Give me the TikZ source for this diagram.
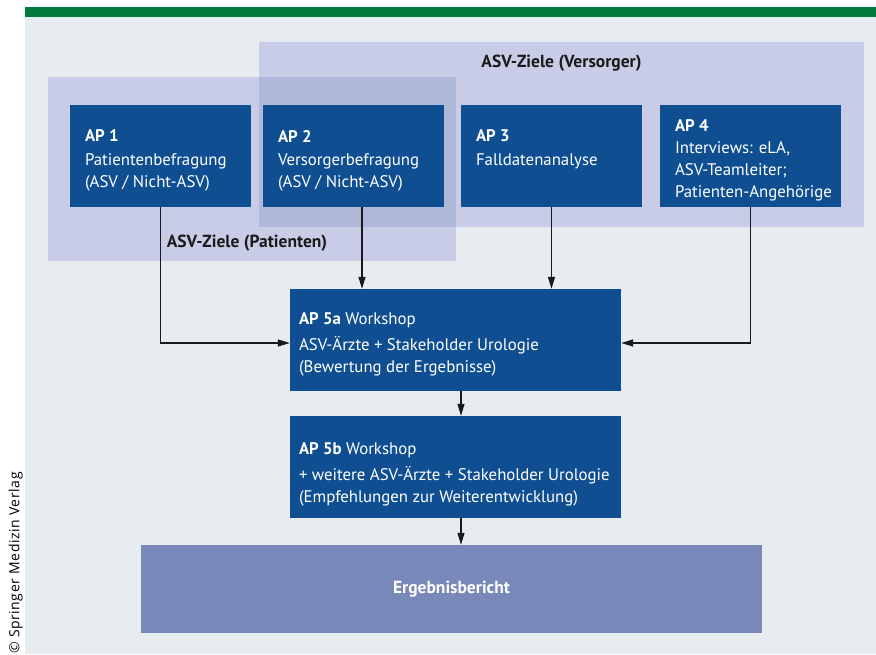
\documentclass[tikz,border=0pt]{standalone}
\usepackage{fontspec}
\setmainfont{PT Sans}
\newfontfamily\copyfont[LetterSpace=4]{Open Sans}
\usetikzlibrary{positioning,arrows.meta}

\definecolor{bgcol}{HTML}{E7ECF1}
\definecolor{barcol}{HTML}{007A3E}
\definecolor{groupcol}{HTML}{C8CCE6}
\definecolor{overlapcol}{HTML}{AFB8D9}
\definecolor{apblue}{HTML}{0F4F91}
\definecolor{resultcol}{HTML}{7889B9}
\definecolor{headcol}{HTML}{1A1A1A}
\definecolor{linecol}{HTML}{1A1A1A}

\begin{document}
\begin{tikzpicture}[x=1pt, y=-1pt,
    group/.style={fill=groupcol, inner sep=0pt},
    apbox/.style={fill=apblue, inner sep=0pt, minimum height=102pt},
    aptext/.style={text=white, align=left, inner sep=0pt, font=\fontsize{16.8}{22}\selectfont},
    heading/.style={text=headcol, inner sep=0pt, font=\fontsize{17.5}{20}\selectfont\bfseries},
    conn/.style={draw=linecol, line width=1.2pt, -{Triangle[length=12pt,width=7pt]}}]

  \useasboundingbox (0,0) rectangle (876,654);
  \clip (0,0) rectangle (876,654);

  % frame
  \fill[bgcol] (25,16.7) rectangle (876,654);
  \fill[barcol] (25,7) rectangle (876,16.7);
  \node[rotate=90, anchor=base east, inner sep=0pt, text=black,
        font=\copyfont\fontsize{14}{16}\selectfont] (copy) at (19.5,472) {© Springer Medizin Verlag};

  % groups
  \node[group, minimum width=408pt, minimum height=184pt] (pgroup) at (252,169) {};
  \node[group, minimum width=605pt, minimum height=185pt] (vgroup) at (561.5,134.5) {};
  \fill[overlapcol] (vgroup.west |- pgroup.north) rectangle (pgroup.east |- vgroup.south);

  \node[heading, below=21pt of vgroup.north, anchor=center] (vhead) {ASV-Ziele (Versorger)};
  \node[heading, above=18pt of pgroup.south, anchor=center, xshift=-5pt] (phead) {ASV-Ziele (Patienten)};

  % work packages
  \node[apbox, minimum width=181pt] (ap1) at (160.5,156) {};
  \node[apbox, minimum width=181pt] (ap2) at (353.5,156) {};
  \node[apbox, minimum width=181pt] (ap3) at (551.5,156) {};
  \node[apbox, minimum width=181pt] (ap4) at (750.5,156) {};
  \node[apbox, minimum width=331pt] (ap5a) at (455.5,340) {};
  \node[apbox, minimum width=331pt] (ap5b) at (455.5,467) {};
  \node[fill=resultcol, inner sep=0pt, minimum width=621pt, minimum height=88pt,
        text=white, font=\fontsize{17.5}{20}\selectfont\bfseries] (result) at (451.5,589) {Ergebnisbericht};

  \node[aptext, below right=25pt and 15pt of ap1.north west] (t1)
    {\textbf{AP 1}\\[2pt] Patientenbefragung\\ (ASV / Nicht-ASV)};
  \node[aptext, below right=25pt and 15pt of ap2.north west] (t2)
    {\textbf{AP 2}\\[2pt] Versorgerbefragung\\ (ASV / Nicht-ASV)};
  \node[aptext, below right=25pt and 15pt of ap3.north west] (t3)
    {\textbf{AP 3}\\[2pt] Falldatenanalyse};
  \node[aptext, below right=15pt and 15pt of ap4.north west] (t4)
    {\textbf{AP 4}\\ Interviews: eLA,\\ ASV-Teamleiter;\\ Patienten-Angehörige};
  \node[aptext, below right=23.5pt and 9pt of ap5a.north west] (t5a)
    {\textbf{AP 5a} Workshop\\[4pt] ASV-Ärzte + Stakeholder Urologie\\ (Bewertung der Ergebnisse)};
  \node[aptext, below right=26.5pt and 9pt of ap5b.north west] (t5b)
    {\textbf{AP 5b} Workshop\\[4pt] + weitere ASV-Ärzte + Stakeholder Urologie\\ (Empfehlungen zur Weiterentwicklung)};

  % connectors
  \draw[conn] (ap1.south) |- ([yshift=-3pt]ap5a.west);
  \draw[conn] (ap4.south) |- ([yshift=-3pt]ap5a.east);
  \draw[conn] ([xshift=8.5pt]ap2.south) -- ([xshift=8.5pt]ap2.south |- ap5a.north);
  \draw[conn] (ap3.south) -- (ap3.south |- ap5a.north);
  \draw[conn] ([xshift=5.5pt]ap5a.south) -- ([xshift=5.5pt]ap5a.south |- ap5b.north);
  \draw[conn] ([xshift=5.5pt]ap5b.south) -- ([xshift=5.5pt]ap5b.south |- result.north);

\end{tikzpicture}
\end{document}
